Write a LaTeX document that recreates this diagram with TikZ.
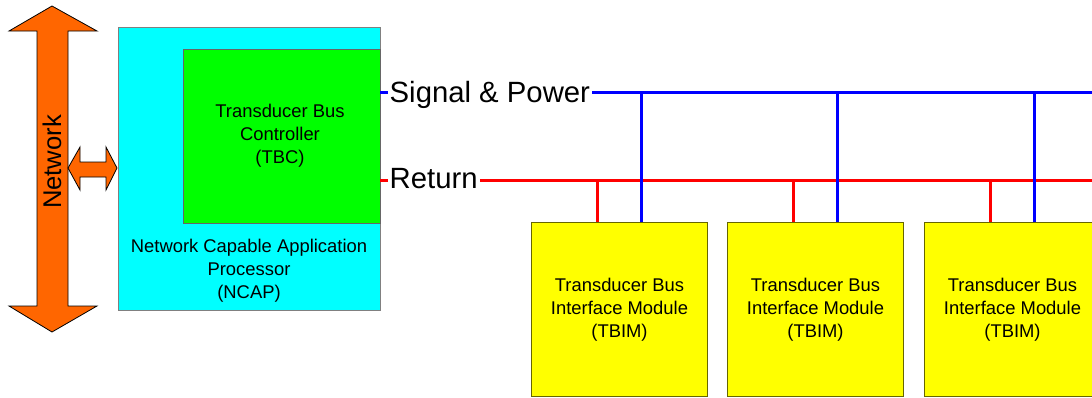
\documentclass[tikz,border=0pt]{standalone}
\usepackage{fontspec}
\setmainfont{Liberation Sans}
\usetikzlibrary{calc}
\definecolor{netorange}{HTML}{FF6600}
\definecolor{ncapcyan}{HTML}{00FFFF}
\definecolor{tbcgreen}{HTML}{00FF00}
\definecolor{tbimyellow}{HTML}{FFFF00}
\definecolor{busblue}{HTML}{0000FF}
\definecolor{busred}{HTML}{FF0000}
\tikzset{
  arrowshape/.style={fill=netorange, draw=black, line width=0.8pt, line join=miter},
  boxtext/.style={font=\fontsize{18.4}{23}\selectfont, align=center, inner sep=0pt},
  buslabel/.style={font=\fontsize{29.3}{34}\selectfont, inner xsep=2pt, inner ysep=0pt},
  tbimbox/.style={rectangle, fill=tbimyellow, draw=black!60!tbimyellow, line width=1pt,
    minimum width=176pt, minimum height=174pt, anchor=north west, inner sep=0pt, boxtext},
  bluebus/.style={draw=busblue, line width=3pt},
  redbus/.style={draw=busred, line width=3pt},
}
\begin{document}
\begin{tikzpicture}[x=1pt, y=-1pt]
\useasboundingbox (0,0) rectangle (1092,397);
\clip (0,0) rectangle (1092,397);
% network arrow
\draw[arrowshape] (52,6) -- (97,31) -- (68,31) -- (68,306) -- (97,306) -- (52,332)
  -- (9,306) -- (37,306) -- (37,31) -- (9,31) -- cycle;
\node[rotate=90, font=\fontsize{25.6}{30}\selectfont, inner sep=0pt] (net) at (52,162) {Network};
% small double arrow
\draw[arrowshape] (68,168) -- (80,147) -- (80,162) -- (106,162) -- (106,147) -- (117,168)
  -- (106,190) -- (106,177) -- (80,177) -- (80,190) -- cycle;
% NCAP
\node[rectangle, fill=ncapcyan, draw=black!50, line width=1pt, minimum width=262pt,
  minimum height=283pt, anchor=north west, inner sep=0pt] (ncap) at (118,27) {};
\node[boxtext] (ncaptext) at (249,271) {Network Capable Application\\Processor\\(NCAP)};
% TBC
\node[rectangle, fill=tbcgreen, draw=black!60, line width=1pt, minimum width=197pt,
  minimum height=174pt, anchor=north west, inner sep=0pt, boxtext] (tbc) at (183,49) {};
\node[boxtext] (tbctext) at (280,136) {Transducer Bus\\Controller\\(TBC)};
% bus labels
\node[buslabel, anchor=base west] (sig) at (387.5,102) {Signal \& Power};
\node[buslabel, anchor=base west] (ret) at (387.5,188.5) {Return};
\coordinate (sigL) at (380,92);
\coordinate (sigR) at (1092,92);
\coordinate (retL) at (380,180);
\coordinate (retR) at (1092,180);
% TBIMs
\node[tbimbox] (t1) at (531,222) {Transducer Bus\\Interface Module\\(TBIM)};
\node[tbimbox] (t2) at (727,222) {Transducer Bus\\Interface Module\\(TBIM)};
\node[tbimbox] (t3) at (924,222) {Transducer Bus\\Interface Module\\(TBIM)};
% buses
\draw[bluebus] (sigL) -- (sigL -| sig.west);
\draw[bluebus] (sigL -| sig.east) -- (sigR);
\draw[redbus] (retL) -- (retL -| ret.west);
\draw[redbus] (retL -| ret.east) -- (retR);
% drops
\foreach \t in {t1,t2,t3}{
  \draw[redbus] ($(\t.north west)+(66,0)$) coordinate (r\t) -- (r\t |- retL);
  \draw[bluebus] ($(\t.north west)+(110,0)$) coordinate (b\t) -- (b\t |- sigL);
}
\end{tikzpicture}
\end{document}
